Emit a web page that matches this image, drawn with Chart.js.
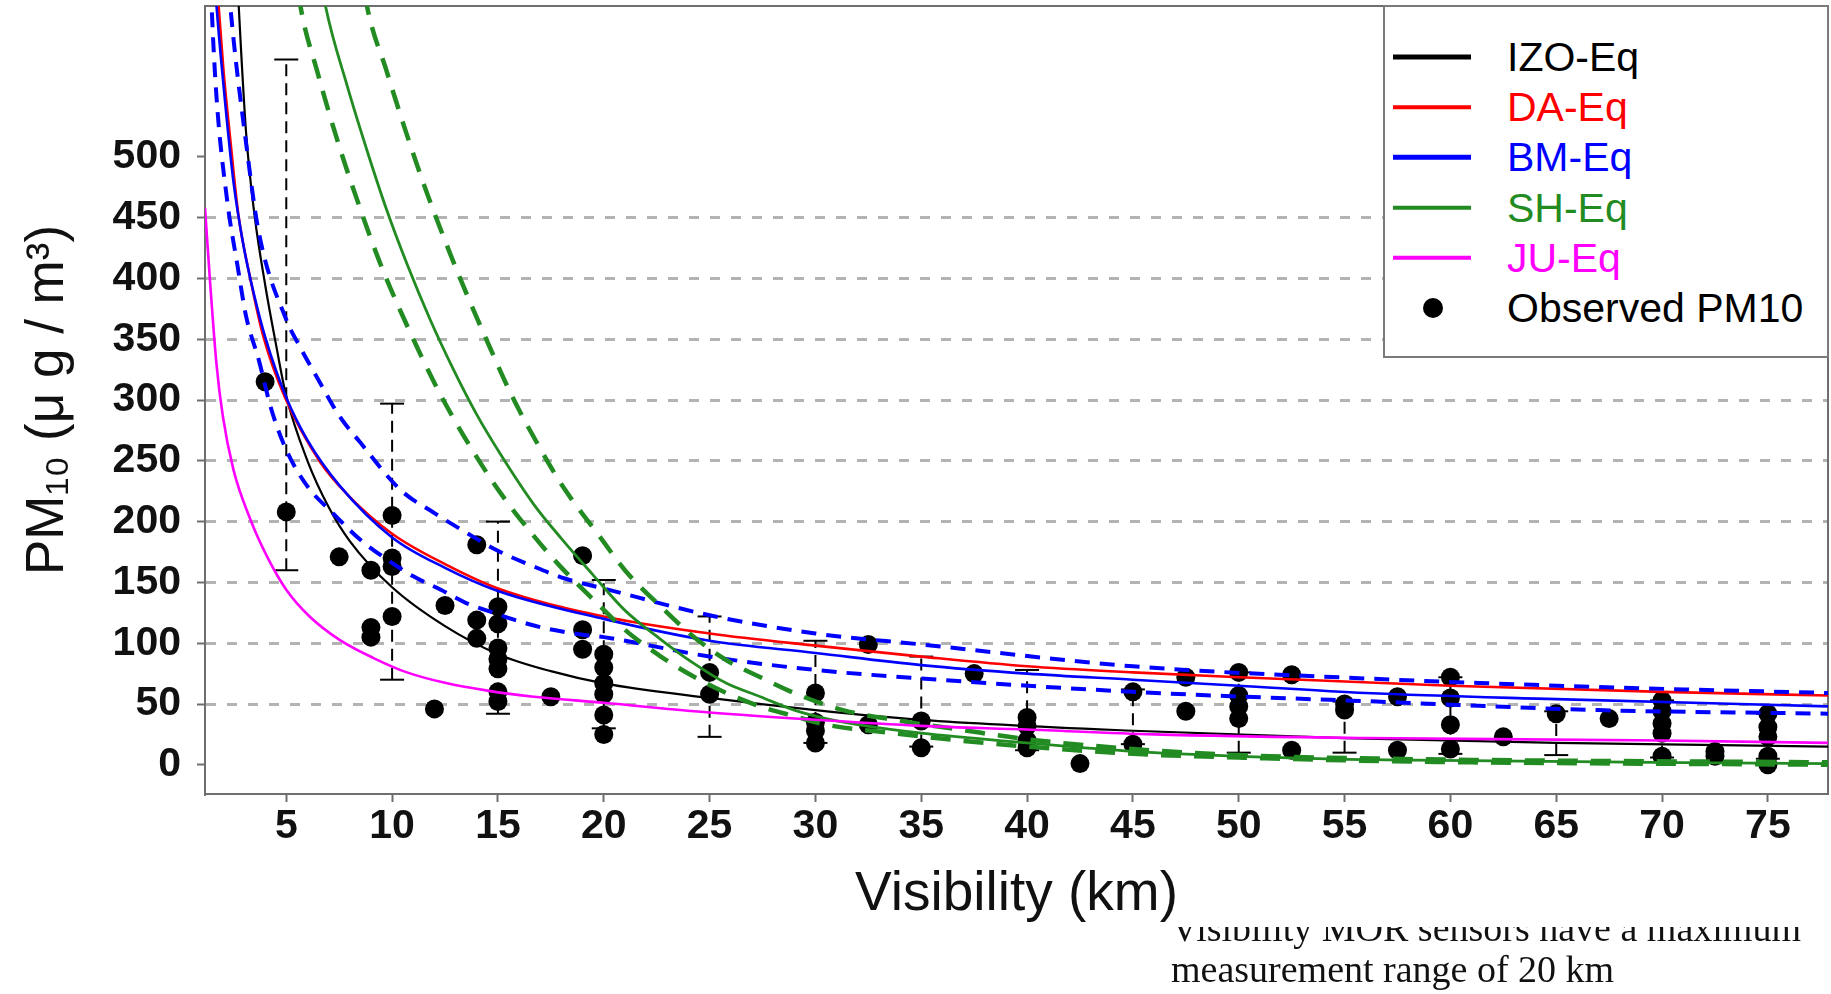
<!DOCTYPE html>
<html>
<head>
<meta charset="utf-8">
<title>PM10 vs Visibility</title>
<script src="https://cdn.jsdelivr.net/npm/chart.js@4.4.1/dist/chart.umd.min.js"></script>
<style>
  html, body { margin: 0; padding: 0; background: #fff; }
  #wrap { position: relative; width: 1831px; height: 994px; overflow: hidden; }
  #chart { position: absolute; left: 0; top: 0; }
  #legend {
    position: absolute; left: 1383px; top: 5px; width: 446px; height: 353px;
    box-sizing: border-box; background: #fff; border: 2px solid #7a7a7a;
    font-family: 'Liberation Sans', Arial, sans-serif; font-size: 41px;
  }
  .row { position: absolute; left: 0; width: 100%; height: 50px; }
  .swatch { position: absolute; left: 8px; width: 78px; top: 50%; transform: translateY(-50%); }
  .dot { position: absolute; left: 38px; width: 20px; height: 20px; top: 50%; margin-top: -10px; border-radius: 50%; background: #000; }
  .label { position: absolute; left: 122px; top: 50%; transform: translateY(-50%); line-height: 1; white-space: nowrap; }
  #note {
    position: absolute; left: 1171px; top: 927px; width: 660px; height: 67px; overflow: hidden;
    font-family: 'Liberation Serif', 'DejaVu Serif', serif; font-size: 38px; line-height: 41px; color: #111;
  }
  #note .inner { margin-top: -19px; white-space: nowrap; }
</style>
</head>
<body>
<div id="wrap">
  <canvas id="chart" width="1831" height="994"></canvas>
  <div id="legend"></div>
  <div id="note"><div class="inner">Visibility MOR sensors have a maximum<br>measurement range of 20 km</div></div>
</div>
<script>
// axis ticks
const xTicks = [5, 10, 15, 20, 25, 30, 35, 40, 45, 50, 55, 60, 65, 70, 75];
const yTicks = [0, 50, 100, 150, 200, 250, 300, 350, 400, 450, 500];

// fitted curves (visibility km -> PM10)
const izoV  = [2.6, 2.75, 3.1, 3.5, 4.0, 4.5, 5.0, 6.0, 7.0, 8.0, 10, 12.5, 15, 17.5, 20, 25, 30, 35, 45, 55, 65, 78];
const izoPM = [680, 625, 520, 452, 395, 347, 303, 250, 212, 184, 146, 114, 91, 77, 67, 55, 45, 37, 28, 22, 18, 15];

const daV  = [1.7, 1.8, 2.03, 2.35, 2.74, 3.3, 3.92, 4.94, 6.6, 7.9, 10, 12.5, 15, 20, 25, 30, 35, 40, 45, 50, 60, 70, 78];
const daPM = [650, 625, 572, 515, 452, 400, 352, 302, 249, 222, 190, 165, 145, 122, 108, 98, 89, 81, 76, 72, 65, 60, 57];

const bmV  = [1.6, 1.7, 2.0, 2.5, 3.0, 3.5, 4.0, 5.0, 6.0, 7.5, 10, 12.5, 15, 20, 25, 30, 35, 40, 45, 50, 56, 65, 78];
const bmPM = [650, 625, 565, 480, 425, 385, 352, 302, 267, 230, 187, 162, 143, 120, 102, 92, 82, 75, 70, 65, 59, 54, 48];

const bmUpV  = [2.2, 2.35, 3.14, 3.7, 5.0, 5.7, 6.6, 7.5, 8.5, 10.4, 12, 13.5, 15, 16.7, 18.2, 20, 25, 30, 35, 45, 56, 67, 78];
const bmUpPM = [660, 625, 506, 438, 366, 342, 314, 287, 265, 226, 207, 191, 176, 163, 153, 145, 123, 108, 99, 81, 71, 64, 59];

const bmLoV  = [1.4, 1.47, 1.7, 2.2, 2.7, 3.1, 3.7, 4.3, 5.0, 6.0, 7.2, 8.5, 9.75, 11, 12.3, 13.5, 14.8, 16, 17.3, 19, 20, 25, 30, 35, 45, 56.5, 67, 78];
const bmLoPM = [660, 625, 550, 465, 410, 369, 333, 292, 259, 229, 207, 185, 169, 155, 144, 133, 125, 118, 112, 107, 105, 89, 78, 71, 60, 52, 45, 42];

const shV  = [6.6, 6.84, 7.9, 8.8, 9.75, 10.7, 11.8, 12.9, 14, 15.1, 16.7, 18, 19.5, 21, 22.7, 24.2, 25.8, 27.4, 29, 30.5, 32, 35, 40, 45, 50, 57, 78];
const shPM = [650, 625, 557, 506, 456, 412, 366, 325, 288, 256, 214, 186, 156, 127, 103, 84, 67, 56, 45, 38, 33, 26, 18, 11, 7, 4, 1];

const shUpV  = [8.5, 8.8, 9.75, 10.7, 11.65, 12.75, 13.5, 14.6, 15.7, 17, 18.1, 19.8, 21, 22.7, 24.2, 25.8, 27.4, 29, 31.3, 33.7, 36.8, 40, 45, 50, 57, 78];
const shUpPM = [660, 625, 570, 518, 470, 420, 388, 344, 302, 260, 228, 188, 160, 130, 106, 86, 72, 59, 45, 37, 29, 21, 13, 8, 5, 2];

const shLoV  = [5.4, 5.66, 6.45, 7.55, 8.5, 9.4, 10.4, 12, 12.9, 14, 15.1, 16.7, 17.9, 19.5, 21, 22.7, 24.2, 25.8, 27.4, 29, 30.5, 33.7, 36.8, 40, 45, 50, 57, 78];
const shLoPM = [660, 625, 571, 506, 457, 414, 373, 314, 285, 253, 224, 188, 164, 136, 111, 89, 73, 59, 48, 40, 33, 26, 20, 15, 9, 6, 3, 0];

const juV  = [1.16, 1.4, 1.7, 2.0, 2.5, 3.3, 4.1, 5.0, 6.1, 7.5, 9.1, 10.7, 12.6, 14.5, 16.7, 20, 25, 30, 35, 40, 46, 56, 70, 78];
const juPM = [458, 397, 330, 287, 243, 202, 171, 144, 122, 103, 88, 76, 67, 61, 56, 51, 43, 37, 32, 29, 25, 22, 20, 18];

// observed PM10
const obsV  = [4, 5, 7.5, 9, 9, 9, 10, 10, 10, 10, 12, 12.5, 14, 14, 14, 15, 15, 15, 15, 15, 15, 15, 17.5, 19, 19, 19,
               20, 20, 20, 20, 20, 20, 25, 25, 30, 30, 30, 30, 32.5, 32.5, 35, 35, 37.5, 40, 40, 40, 40, 42.5, 45, 45,
               47.5, 47.5, 50, 50, 50, 50, 52.5, 52.5, 55, 55, 57.5, 57.5, 60, 60, 60, 60, 62.5, 65, 67.5,
               70, 70, 70, 70, 70, 72.5, 72.5, 75, 75, 75, 75, 75];
const obsPM = [315, 208, 171, 160, 113, 105, 205, 170, 163, 122, 46, 131, 181, 119, 104, 130, 116, 96, 87, 79, 60, 52, 56, 172, 111, 95,
               91, 80, 67, 58, 41, 25, 76, 58, 59, 35, 28, 18, 99, 33, 36, 14, 75, 39, 32, 20, 14, 1, 60, 17,
               72, 44, 76, 57, 48, 38, 74, 12, 50, 45, 56, 12, 72, 55, 33, 13, 23, 42, 38,
               53, 44, 34, 26, 7, 11, 7, 42, 31, 23, 7, 0];

// range bars per visibility class
const barV    = [5, 10, 15, 20, 25, 30, 35, 40, 45, 50, 55, 60, 65, 70, 75];
const barLow  = [160, 70, 42, 30, 23, 18, 15, 12, 17, 10, 10, 9, 8, 6, 5];
const barHigh = [580, 297, 200, 152, 122, 102, 89, 78, 62, 76, 52, 72, 44, 53, 42];

// legend
const legendNames  = ['IZO-Eq', 'DA-Eq', 'BM-Eq', 'SH-Eq', 'JU-Eq', 'Observed PM10'];
const legendColors = ['#000000', '#ff0000', '#0000ff', '#228b22', '#ff00ff', '#000000'];

const frameColor = '#6e6e6e';
const sans = "'Liberation Sans', Arial, sans-serif";

function pairs(xs, ys) {
  return xs.map((x, i) => ({ x: x, y: ys[i] }));
}

function curve(label, xs, ys, color, width, dash, order) {
  return {
    label: label,
    data: pairs(xs, ys),
    borderColor: color,
    borderWidth: width,
    borderDash: dash,
    pointRadius: 0,
    cubicInterpolationMode: 'monotone',
    fill: false,
    order: order
  };
}

const barData = [];
barV.forEach((v, i) => {
  barData.push({ x: v, y: barLow[i] }, { x: v, y: barHigh[i] }, { x: v, y: null });
});

const datasets = [
  curve('IZO-Eq', izoV, izoPM, legendColors[0], 2.2, [], 5),
  curve('DA-Eq', daV, daPM, legendColors[1], 2.6, [], 4),
  curve('BM-Eq', bmV, bmPM, legendColors[2], 2.6, [], 3),
  curve('BM upper', bmUpV, bmUpPM, legendColors[2], 4, [15, 10], 3),
  curve('BM lower', bmLoV, bmLoPM, legendColors[2], 4, [15, 10], 3),
  curve('SH-Eq', shV, shPM, legendColors[3], 2.8, [], 2),
  curve('SH upper', shUpV, shUpPM, legendColors[3], 4.5, [20, 13], 2),
  curve('SH lower', shLoV, shLoPM, legendColors[3], 4.5, [20, 13], 2),
  curve('JU-Eq', juV, juPM, legendColors[4], 2.6, [], 1),
  {
    label: 'range',
    data: barData,
    borderColor: '#000',
    borderWidth: 2,
    borderDash: [12, 7],
    spanGaps: false,
    pointStyle: 'line',
    pointRadius: 12,
    pointBorderWidth: 2,
    pointBorderColor: '#000',
    order: 9
  },
  {
    label: 'Observed PM10',
    data: pairs(obsV, obsPM),
    showLine: false,
    pointStyle: 'circle',
    pointRadius: 9.5,
    pointBorderWidth: 0,
    pointBackgroundColor: '#000',
    order: 10
  }
];

new Chart(document.getElementById('chart'), {
  type: 'line',
  data: { datasets: datasets },
  options: {
    responsive: false,
    devicePixelRatio: 1,
    animation: false,
    events: [],
    layout: { autoPadding: false, padding: { top: 6, right: 3, left: 0, bottom: 0 } },
    plugins: { legend: { display: false }, tooltip: { enabled: false } },
    scales: {
      x: {
        type: 'linear', position: 'bottom', min: 1.16, max: 77.84,
        afterBuildTicks: s => { s.ticks = xTicks.map(v => ({ value: v })); },
        afterFit: s => { s.height = 200; s.paddingLeft = 0; s.paddingRight = 0; },
        grid: { drawOnChartArea: false, drawTicks: true, tickLength: 8, tickColor: frameColor, tickWidth: 2 },
        border: { display: true, color: frameColor, width: 2 },
        ticks: { font: { family: sans, size: 41, weight: 'bold' }, color: '#111', padding: 0, maxRotation: 0, autoSkip: false },
        title: { display: true, text: 'Visibility (km)', font: { family: sans, size: 55 }, color: '#111', padding: { top: 0, bottom: 66 } }
      },
      y: {
        type: 'linear', position: 'left', min: -24, max: 624,
        afterBuildTicks: s => { s.ticks = yTicks.map(v => ({ value: v })); },
        afterFit: s => { s.width = 205; s.paddingTop = 0; s.paddingBottom = 0; },
        grid: {
          color: c => (c.tick && c.tick.value >= 50 && c.tick.value <= 450) ? '#b3b3b3' : 'rgba(0,0,0,0)',
          lineWidth: 3, tickLength: 8, tickColor: frameColor, tickWidth: 2
        },
        border: { display: true, color: frameColor, width: 2, dash: [10, 11] },
        ticks: { font: { family: sans, size: 41, weight: 'bold' }, color: '#111', padding: 16 },
        title: { display: true, text: 'PM₁₀ (μ g / m³)', font: { family: sans, size: 53 }, color: '#111', padding: { top: 17, bottom: 0 } }
      },
      xTop: {
        type: 'linear', position: 'top', min: 1.16, max: 77.84,
        afterFit: s => { s.height = 0; s.paddingLeft = 0; s.paddingRight = 0; },
        ticks: { display: false },
        grid: { drawOnChartArea: false, drawTicks: false },
        border: { display: true, color: frameColor, width: 2 }
      },
      yRight: {
        type: 'linear', position: 'right', min: -24, max: 624,
        afterFit: s => { s.width = 0; s.paddingTop = 0; s.paddingBottom = 0; },
        ticks: { display: false },
        grid: { drawOnChartArea: false, drawTicks: false },
        border: { display: true, color: frameColor, width: 2 }
      }
    }
  }
});

// legend box in the top-right corner of the plot
const legend = document.getElementById('legend');
legendNames.forEach((name, i) => {
  const row = document.createElement('div');
  row.className = 'row';
  row.style.top = (25 + i * 50.2) + 'px';
  if (i < 5) {
    const sw = document.createElement('div');
    sw.className = 'swatch';
    sw.style.height = (i === 0 ? 5 : i === 1 ? 3.5 : 4.5) + 'px';
    sw.style.background = legendColors[i];
    row.appendChild(sw);
  } else {
    const dot = document.createElement('div');
    dot.className = 'dot';
    row.appendChild(dot);
  }
  const lab = document.createElement('div');
  lab.className = 'label';
  lab.textContent = name;
  lab.style.color = legendColors[i];
  row.appendChild(lab);
  legend.appendChild(row);
});
</script>
</body>
</html>
